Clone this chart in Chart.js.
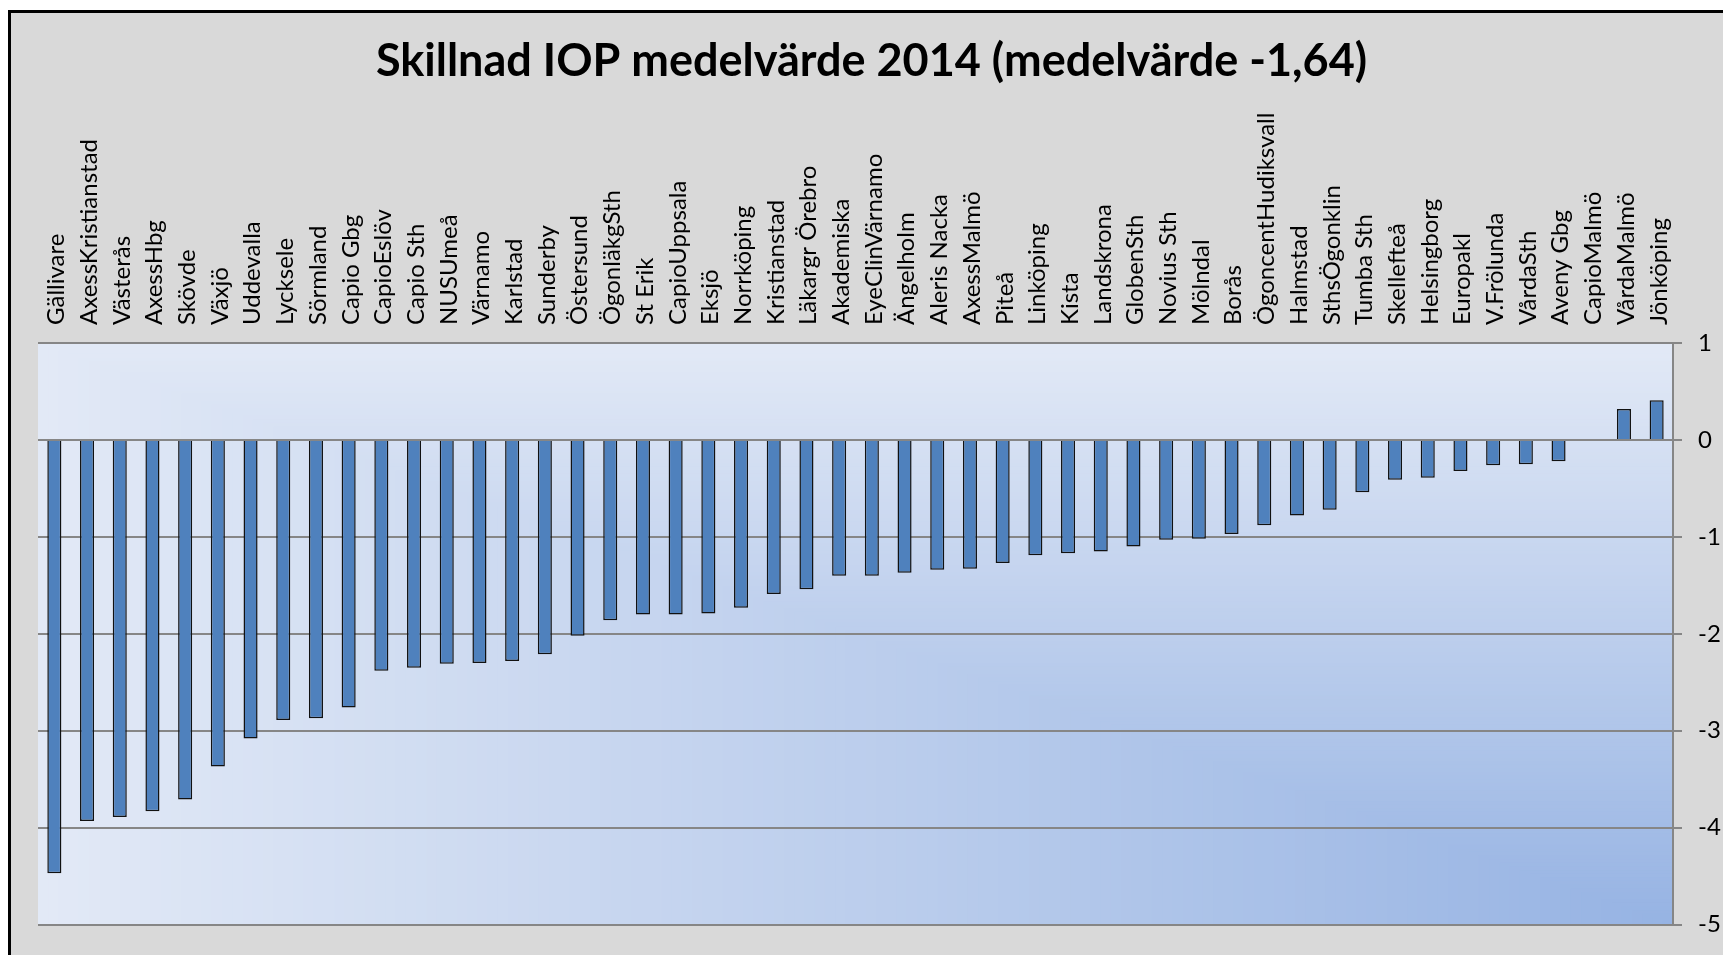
<!DOCTYPE html>
<html>
<head>
<meta charset="utf-8">
<script src="https://cdn.jsdelivr.net/npm/chart.js@4.4.0/dist/chart.umd.min.js"></script>
<style>
  html, body { margin: 0; padding: 0; background: #fff; overflow: hidden; }
  #frame { position: absolute; left: 8px; top: 10px; width: 1800px; height: 1000px; background: #d9d9d9; border: 3px solid #000; }
  #wrap { position: absolute; left: 0; top: 0; width: 1723px; height: 955px; }
</style>
</head>
<body>
<div id="frame"></div>
<div id="wrap"><canvas id="chart" width="1723" height="955"></canvas></div>
<script>
const titleText = 'Skillnad IOP medelvärde 2014 (medelvärde -1,64)'

const clinics = [
  'Gällivare', 'AxessKristianstad', 'Västerås', 'AxessHbg', 'Skövde', 'Växjö',
  'Uddevalla', 'Lycksele', 'Sörmland', 'Capio Gbg', 'CapioEslöv', 'Capio Sth',
  'NUSUmeå', 'Värnamo', 'Karlstad', 'Sunderby', 'Östersund', 'ÖgonläkgSth',
  'St Erik', 'CapioUppsala', 'Eksjö', 'Norrköping', 'Kristianstad', 'Läkargr Örebro',
  'Akademiska', 'EyeClinVärnamo', 'Ängelholm', 'Aleris Nacka', 'AxessMalmö', 'Piteå',
  'Linköping', 'Kista', 'Landskrona', 'GlobenSth', 'Novius Sth', 'Mölndal',
  'Borås', 'ÖgoncentHudiksvall', 'Halmstad', 'SthsÖgonklin', 'Tumba Sth', 'Skellefteå',
  'Helsingborg', 'Europakl', 'V.Frölunda', 'VårdaSth', 'Aveny Gbg', 'CapioMalmö',
  'VårdaMalmö', 'Jönköping'
]

const iopDiff = [
  -4.47, -3.93, -3.89, -3.83, -3.71, -3.37,
  -3.08, -2.89, -2.87, -2.76, -2.38, -2.35,
  -2.31, -2.30, -2.28, -2.21, -2.02, -1.86,
  -1.80, -1.80, -1.79, -1.73, -1.59, -1.54,
  -1.40, -1.40, -1.37, -1.34, -1.33, -1.27,
  -1.19, -1.17, -1.15, -1.10, -1.03, -1.02,
  -0.97, -0.88, -0.78, -0.72, -0.54, -0.41,
  -0.39, -0.32, -0.26, -0.25, -0.22, 0,
  0.32, 0.41
]

const yMin = -5
const yMax = 1
const yStep = 1

const font = 'Lato, "Open Sans", sans-serif'

// Office style "from corner" fill behind the plot area
const cornerFill = {
  id: 'cornerFill',
  beforeDraw (chart) {
    const { ctx, chartArea: a } = chart
    const w = a.right - a.left
    const h = a.bottom - a.top
    const light = [226, 233, 246]
    const dark = [150, 179, 227]
    const steps = 160
    ctx.save()
    for (let i = steps; i > 0; i--) {
      const t = i / steps
      const c = light.map((l, k) => Math.round(dark[k] + (l - dark[k]) * t))
      ctx.fillStyle = 'rgb(' + c.join(',') + ')'
      ctx.fillRect(a.right - w * t, a.bottom - h * t, w * t, h * t)
    }
    ctx.restore()
  }
}

const titleSize = 45
const titlePadTop = 34
const plotTop = 343

new Chart(document.getElementById('chart'), {
  type: 'bar',
  data: {
    labels: clinics,
    datasets: [{
      data: iopDiff,
      xAxisID: 'x',
      yAxisID: 'y',
      backgroundColor: '#4f81bd',
      borderColor: '#111',
      borderWidth: 1.5,
      barPercentage: 0.43,
      categoryPercentage: 1
    }]
  },
  options: {
    responsive: false,
    animation: false,
    layout: { padding: { left: 20, right: 0, top: 0, bottom: 25 } },
    plugins: {
      legend: { display: false },
      tooltip: { enabled: false },
      title: {
        display: true,
        text: titleText,
        color: '#000',
        font: { family: font, size: titleSize, weight: 'bold', lineHeight: 1.2 },
        padding: { top: titlePadTop, bottom: 0 }
      }
    },
    scales: {
      x: {
        position: 'top',
        grid: { display: false, drawTicks: false },
        border: { display: false },
        ticks: {
          autoSkip: false,
          maxRotation: 90,
          minRotation: 90,
          labelOffset: 31,
          color: '#000',
          font: { family: font, size: 24 },
          padding: 18
        },
        afterFit (scale) {
          scale.height = plotTop - (titlePadTop + titleSize * 1.2)
        }
      },
      y: {
        position: 'right',
        min: yMin,
        max: yMax,
        ticks: {
          stepSize: yStep,
          color: '#000',
          font: { family: font, size: 24 },
          padding: 16
        },
        grid: { color: '#868686', lineWidth: 2, tickLength: 9 },
        border: { color: '#868686', width: 2 },
        afterFit (scale) {
          scale.width = 50
        }
      },
      // empty spacer on the left so the title centres like the original
      spacer: {
        type: 'linear',
        axis: 'y',
        position: 'left',
        ticks: { display: false },
        grid: { display: false, drawTicks: false },
        border: { display: false },
        afterFit (scale) {
          scale.width = 18
        }
      }
    }
  },
  plugins: [cornerFill]
})
</script>
</body>
</html>
